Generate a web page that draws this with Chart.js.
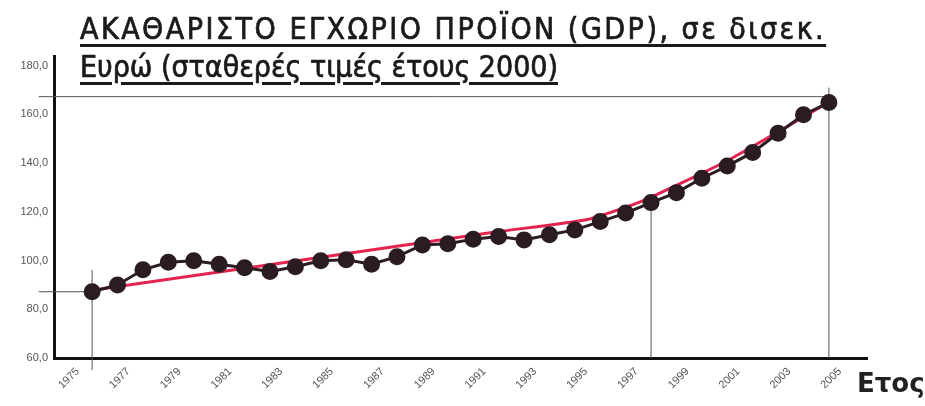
<!DOCTYPE html>
<html>
<head>
<meta charset="utf-8">
<script src="https://cdn.jsdelivr.net/npm/chart.js@4"></script>
<style>
  html, body { margin: 0; padding: 0; background: #fff; }
  #wrap { position: relative; width: 925px; height: 406px; }
  .title { position: absolute; left: 80px; font-family: 'DejaVu Sans Condensed', 'DejaVu Sans', sans-serif;
           font-size: 30px; color: #1a1a1a; -webkit-text-stroke: 0.7px #1a1a1a;
           text-decoration: underline; text-decoration-thickness: 3px;
           text-underline-offset: 5px; white-space: nowrap; }
  #t1 { top: 11px; letter-spacing: 2.5px; }
  #t2 { top: 49px; }
  #xname { position: absolute; left: 857px; top: 368px; font-family: 'DejaVu Sans', sans-serif;
           font-weight: bold; font-size: 26px; color: #222; }
</style>
</head>
<body>
<div id="wrap">
  <canvas id="c" width="925" height="406"></canvas>
  <div class="title" id="t1">ΑΚΑΘΑΡΙΣΤΟ ΕΓΧΩΡΙΟ ΠΡΟΪΟΝ (GDP), σε δισεκ.</div>
  <div class="title" id="t2">Ευρώ (σταθερές τιμές έτους 2000)</div>
  <div id="xname">Ετος</div>
</div>
<script>
// GDP in bn euro, constant 2000 prices
const years = [1976, 1977, 1978, 1979, 1980, 1981, 1982, 1983, 1984, 1985,
  1986, 1987, 1988, 1989, 1990, 1991, 1992, 1993, 1994, 1995,
  1996, 1997, 1998, 1999, 2000, 2001, 2002, 2003, 2004, 2005];
const gdp = [87.2, 90.0, 96.2, 99.3, 99.9, 98.5, 97.1, 95.5, 97.5, 99.9,
  100.3, 98.5, 101.6, 106.4, 106.9, 108.8, 109.9, 108.5, 110.6, 112.6,
  116.0, 119.5, 123.8, 127.9, 133.8, 138.8, 144.4, 152.3, 159.9, 164.9];

// hand drawn trend (red)
const trendYears = [1976, 1992, 1995.5, 1997.6, 2001, 2005];
const trendValues = [87.8, 111.9, 116.9, 124.2, 141.0, 165.0];

// tick labels
const xTicks = [1975, 1977, 1979, 1981, 1983, 1985, 1987, 1989, 1991, 1993, 1995, 1997, 1999, 2001, 2003, 2005];
const yTicks = [60, 80, 100, 120, 140, 160, 180];

// thin guide lines drawn on the original
const guideYears = [1976, 1998, 2005];
const guideTops = [96.2, 123.8, 171.0];
const guideBottoms = [55.0, 60.0, 60.0];
const hGuideValues = [87.2, 167.3];
const hGuideEnds = [1976, 2005];
const hGuideStart = 1973.9;

const guideSets = [];
guideYears.forEach((yr, i) => {
  guideSets.push({
    type: 'line',
    data: [{x: yr, y: guideBottoms[i]}, {x: yr, y: guideTops[i]}],
    borderColor: '#555', borderWidth: 1, pointRadius: 0, clip: false, order: 3
  });
});
hGuideValues.forEach((v, i) => {
  guideSets.push({
    type: 'line',
    data: [{x: hGuideStart, y: v}, {x: hGuideEnds[i], y: v}],
    borderColor: '#555', borderWidth: 1, pointRadius: 0, clip: false, order: 3
  });
});

new Chart(document.getElementById('c'), {
  type: 'line',
  data: {
    datasets: [
      {
        data: years.map((y, i) => ({x: y, y: gdp[i]})),
        borderColor: '#2a1c21', borderWidth: 3,
        pointRadius: 7, pointBackgroundColor: '#2a1c21', pointBorderColor: '#2a1c21',
        order: 1
      },
      {
        data: trendYears.map((y, i) => ({x: y, y: trendValues[i]})),
        borderColor: '#e3244f', borderWidth: 3, pointRadius: 0,
        tension: 0.15,
        order: 2
      },
      ...guideSets
    ]
  },
  options: {
    responsive: false,
    animation: false,
    layout: { padding: { left: 0, right: 58, top: 56, bottom: 0 } },
    plugins: { legend: { display: false }, tooltip: { enabled: false } },
    scales: {
      x: {
        type: 'linear', min: 1974.5, max: 2006.5,
        afterBuildTicks: s => { s.ticks = xTicks.map(v => ({value: v})); },
        afterFit: s => { s.height = 48; },
        grid: { color: 'rgba(0,0,0,0)', drawTicks: false },
        border: { color: '#111', width: 3 },
        ticks: {
          minRotation: 45, maxRotation: 45, padding: 7, labelOffset: 11,
          color: '#555', font: { family: 'Liberation Sans', size: 11 },
          callback: v => String(v)
        }
      },
      y: {
        min: 60, max: 184,
        afterBuildTicks: s => { s.ticks = yTicks.map(v => ({value: v})); },
        afterFit: s => { s.width = 54; },
        grid: { color: 'rgba(0,0,0,0)', drawTicks: false },
        border: { color: '#111', width: 3 },
        ticks: {
          padding: 6, color: '#555', font: { family: 'Liberation Sans', size: 11 },
          callback: v => v.toFixed(1).replace('.', ',')
        }
      }
    }
  }
});
</script>
</body>
</html>
